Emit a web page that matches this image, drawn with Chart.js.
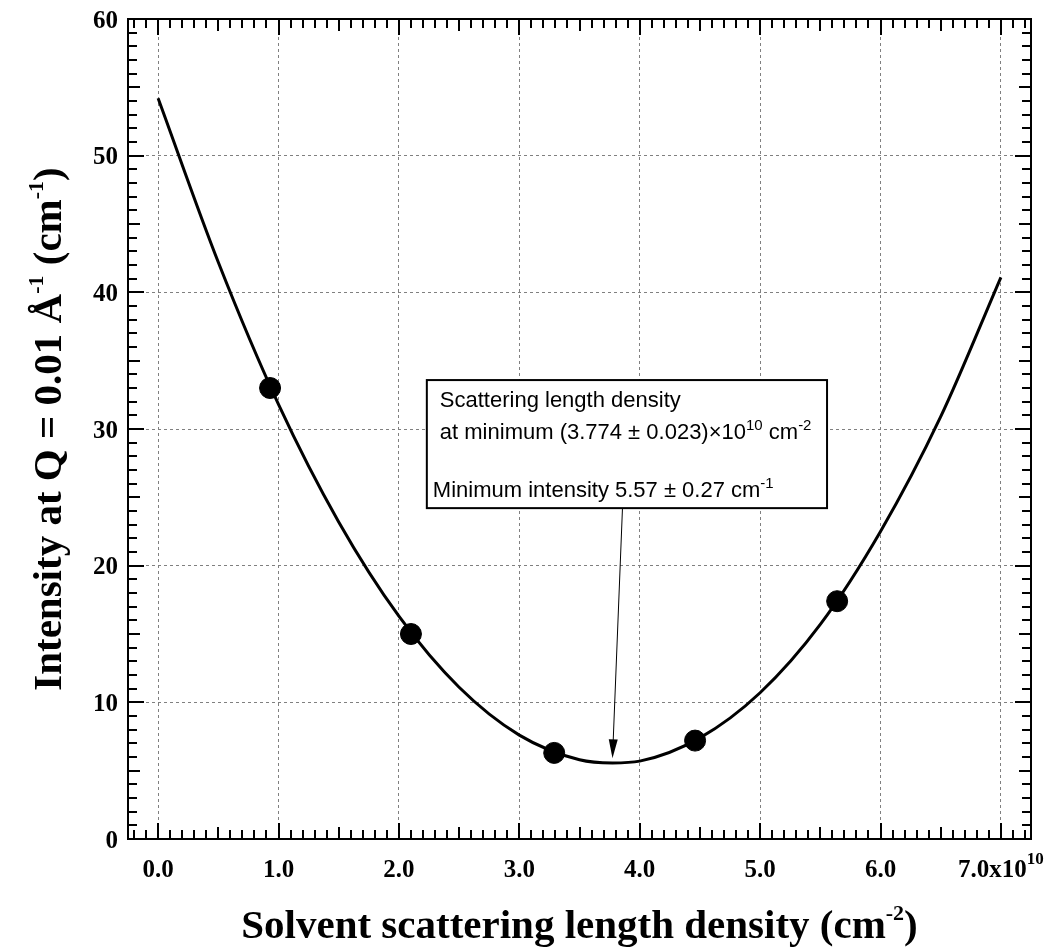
<!DOCTYPE html>
<html>
<head>
<meta charset="utf-8">
<script src="https://cdn.jsdelivr.net/npm/chart.js@4.4.0/dist/chart.umd.min.js"></script>
<style>
html, body { margin: 0; padding: 0; background: #fff; }
</style>
</head>
<body>
<canvas id="myChart" width="1047" height="950"></canvas>
<script>
// axis ticks
var xTicks = [0, 1, 2, 3, 4, 5, 6, 7];
var xTickLabels = ["0.0", "1.0", "2.0", "3.0", "4.0", "5.0", "6.0", "7.0x10"];
var yTicks = [0, 10, 20, 30, 40, 50, 60];

// measured points (x in 1e10 cm^-2)
var sampleX = [0.93, 2.10, 3.29, 4.46, 5.64];
var sampleY = [33.0, 15.0, 6.3, 7.2, 17.4];

// fitted curve
var fitX = [0, 0.5, 1, 1.5, 2, 2.5, 3, 3.5, 3.774, 4, 4.5, 5, 5.5, 6, 6.5, 7];
var fitY = [54.2, 42.2, 31.8, 23.2, 16.3, 11.1, 7.6, 5.8, 5.57, 5.7, 7.4, 10.7, 15.7, 22.5, 30.9, 41.1];

var serif = "'Liberation Serif', 'Times New Roman', serif";
var sans = "'Liberation Sans', Arial, sans-serif";

// draw a run of text pieces (normal + superscript), aligned "left" or "center"
function drawRun(c, parts, x, y, align) {
    var w = 0;
    parts.forEach(function(p) { c.font = p.font; w += c.measureText(p.t).width; });
    var px = align === "center" ? x - w / 2 : x;
    c.textAlign = "left";
    c.textBaseline = "alphabetic";
    parts.forEach(function(p) {
        c.font = p.font;
        c.fillText(p.t, px, y - (p.up || 0));
        px += c.measureText(p.t).width;
    });
}

var frame = {
    id: "frame",
    afterDraw: function(chart) {
        var c = chart.ctx, a = chart.chartArea;
        var xs = chart.scales.x, ys = chart.scales.y;
        c.save();
        c.fillStyle = "#000";
        c.strokeStyle = "#000";

        // tick marks on all four sides
        c.lineWidth = 2;
        c.beginPath();
        for (var k = -2; k <= 72; k++) {
            var px = Math.round(xs.getPixelForValue(k / 10));
            var len = k % 10 === 0 ? 16 : (k % 5 === 0 ? 12 : 9);
            c.moveTo(px, a.bottom); c.lineTo(px, a.bottom - len);
            c.moveTo(px, a.top); c.lineTo(px, a.top + len);
        }
        for (var j = 1; j < 60; j++) {
            var py = Math.round(ys.getPixelForValue(j));
            var l2 = j % 10 === 0 ? 16 : (j % 5 === 0 ? 12 : 9);
            c.moveTo(a.left, py); c.lineTo(a.left + l2, py);
            c.moveTo(a.right, py); c.lineTo(a.right - l2, py);
        }
        c.stroke();
        c.strokeRect(a.left, a.top, a.right - a.left, a.bottom - a.top);

        // tick labels
        var lf = "bold 25px " + serif;
        xTicks.forEach(function(v, i) {
            var parts = [{ t: xTickLabels[i], font: lf }];
            if (i === xTicks.length - 1) parts.push({ t: "10", font: "bold 17px " + serif, up: 13 });
            drawRun(c, parts, xs.getPixelForValue(v), 877, "center");
        });
        c.font = lf;
        c.textAlign = "right";
        c.textBaseline = "alphabetic";
        yTicks.forEach(function(v) {
            c.fillText(String(v), a.left - 10, ys.getPixelForValue(v) + 8.5);
        });

        // axis titles
        var tf = "bold 41px " + serif, sf = "bold 22px " + serif;
        drawRun(c, [
            { t: "Solvent scattering length density (cm", font: tf },
            { t: "-2", font: sf, up: 18 },
            { t: ")", font: tf }
        ], (a.left + a.right) / 2, 938, "center");

        c.save();
        c.translate(61, (a.top + a.bottom) / 2);
        c.rotate(-Math.PI / 2);
        drawRun(c, [
            { t: "Intensity at Q = 0.01 \u00C5", font: tf },
            { t: "-1", font: sf, up: 18 },
            { t: " (cm", font: tf },
            { t: "-1", font: sf, up: 18 },
            { t: ")", font: tf }
        ], 0, 0, "center");
        c.restore();

        // annotation box
        var bl = xs.getPixelForValue(2.232), br = xs.getPixelForValue(5.556);
        var bt = ys.getPixelForValue(33.58), bb = ys.getPixelForValue(24.21);
        c.fillStyle = "#fff";
        c.fillRect(bl, bt, br - bl, bb - bt);
        c.fillStyle = "#000";
        c.lineWidth = 2;
        c.strokeRect(bl, bt, br - bl, bb - bt);
        var af = "22px " + sans, asf = "15px " + sans;
        drawRun(c, [{ t: "Scattering length density", font: af }], bl + 13, bt + 27, "left");
        drawRun(c, [
            { t: "at minimum (3.774 \u00B1 0.023)\u00D710", font: af },
            { t: "10", font: asf, up: 9 },
            { t: " cm", font: af },
            { t: "-2", font: asf, up: 9 }
        ], bl + 13, bt + 59, "left");
        drawRun(c, [
            { t: "Minimum intensity 5.57 \u00B1 0.27 cm", font: af },
            { t: "-1", font: asf, up: 9 }
        ], bl + 6, bt + 117, "left");

        // arrow to the minimum
        var x0 = xs.getPixelForValue(3.857), y0 = bb;
        var x1 = xs.getPixelForValue(3.774), y1 = ys.getPixelForValue(5.9);
        var ang = Math.atan2(y1 - y0, x1 - x0);
        c.lineWidth = 1;
        c.beginPath();
        c.moveTo(x0, y0);
        c.lineTo(x1 - 18 * Math.cos(ang), y1 - 18 * Math.sin(ang));
        c.stroke();
        c.beginPath();
        c.moveTo(x1, y1);
        c.lineTo(x1 - 19 * Math.cos(ang) + 4.5 * Math.sin(ang), y1 - 19 * Math.sin(ang) - 4.5 * Math.cos(ang));
        c.lineTo(x1 - 19 * Math.cos(ang) - 4.5 * Math.sin(ang), y1 - 19 * Math.sin(ang) + 4.5 * Math.cos(ang));
        c.closePath();
        c.fill();
        c.restore();
    }
};

var ctx = document.getElementById("myChart").getContext("2d");
var chart = new Chart(ctx, {
    type: "scatter",
    data: {
        datasets: [{
            type: "line",
            data: fitX.map(function(x, i) { return { x: x, y: fitY[i] }; }),
            borderColor: "#000",
            borderWidth: 3,
            pointRadius: 0,
            fill: false,
            cubicInterpolationMode: "monotone",
            order: 2
        }, {
            type: "scatter",
            data: sampleX.map(function(x, i) { return { x: x, y: sampleY[i] }; }),
            pointRadius: 10.5,
            backgroundColor: "#000",
            borderColor: "#000",
            order: 1
        }]
    },
    options: {
        responsive: false,
        animation: false,
        layout: { padding: { left: 128, right: 16, top: 19, bottom: 111 } },
        plugins: { legend: { display: false }, tooltip: { enabled: false } },
        scales: {
            x: {
                type: "linear",
                min: -0.25,
                max: 7.25,
                afterBuildTicks: function(s) { s.ticks = xTicks.map(function(v) { return { value: v }; }); },
                afterFit: function(s) { s.height = 0; },
                ticks: { display: false },
                grid: { color: "#808080", lineWidth: 1, drawTicks: false },
                border: { display: false, dash: [3, 3] }
            },
            y: {
                type: "linear",
                min: 0,
                max: 60,
                afterBuildTicks: function(s) { s.ticks = yTicks.map(function(v) { return { value: v }; }); },
                afterFit: function(s) { s.width = 0; },
                ticks: { display: false },
                grid: { color: "#808080", lineWidth: 1, drawTicks: false },
                border: { display: false, dash: [3, 3] }
            }
        }
    },
    plugins: [frame]
});
</script>
</body>
</html>
